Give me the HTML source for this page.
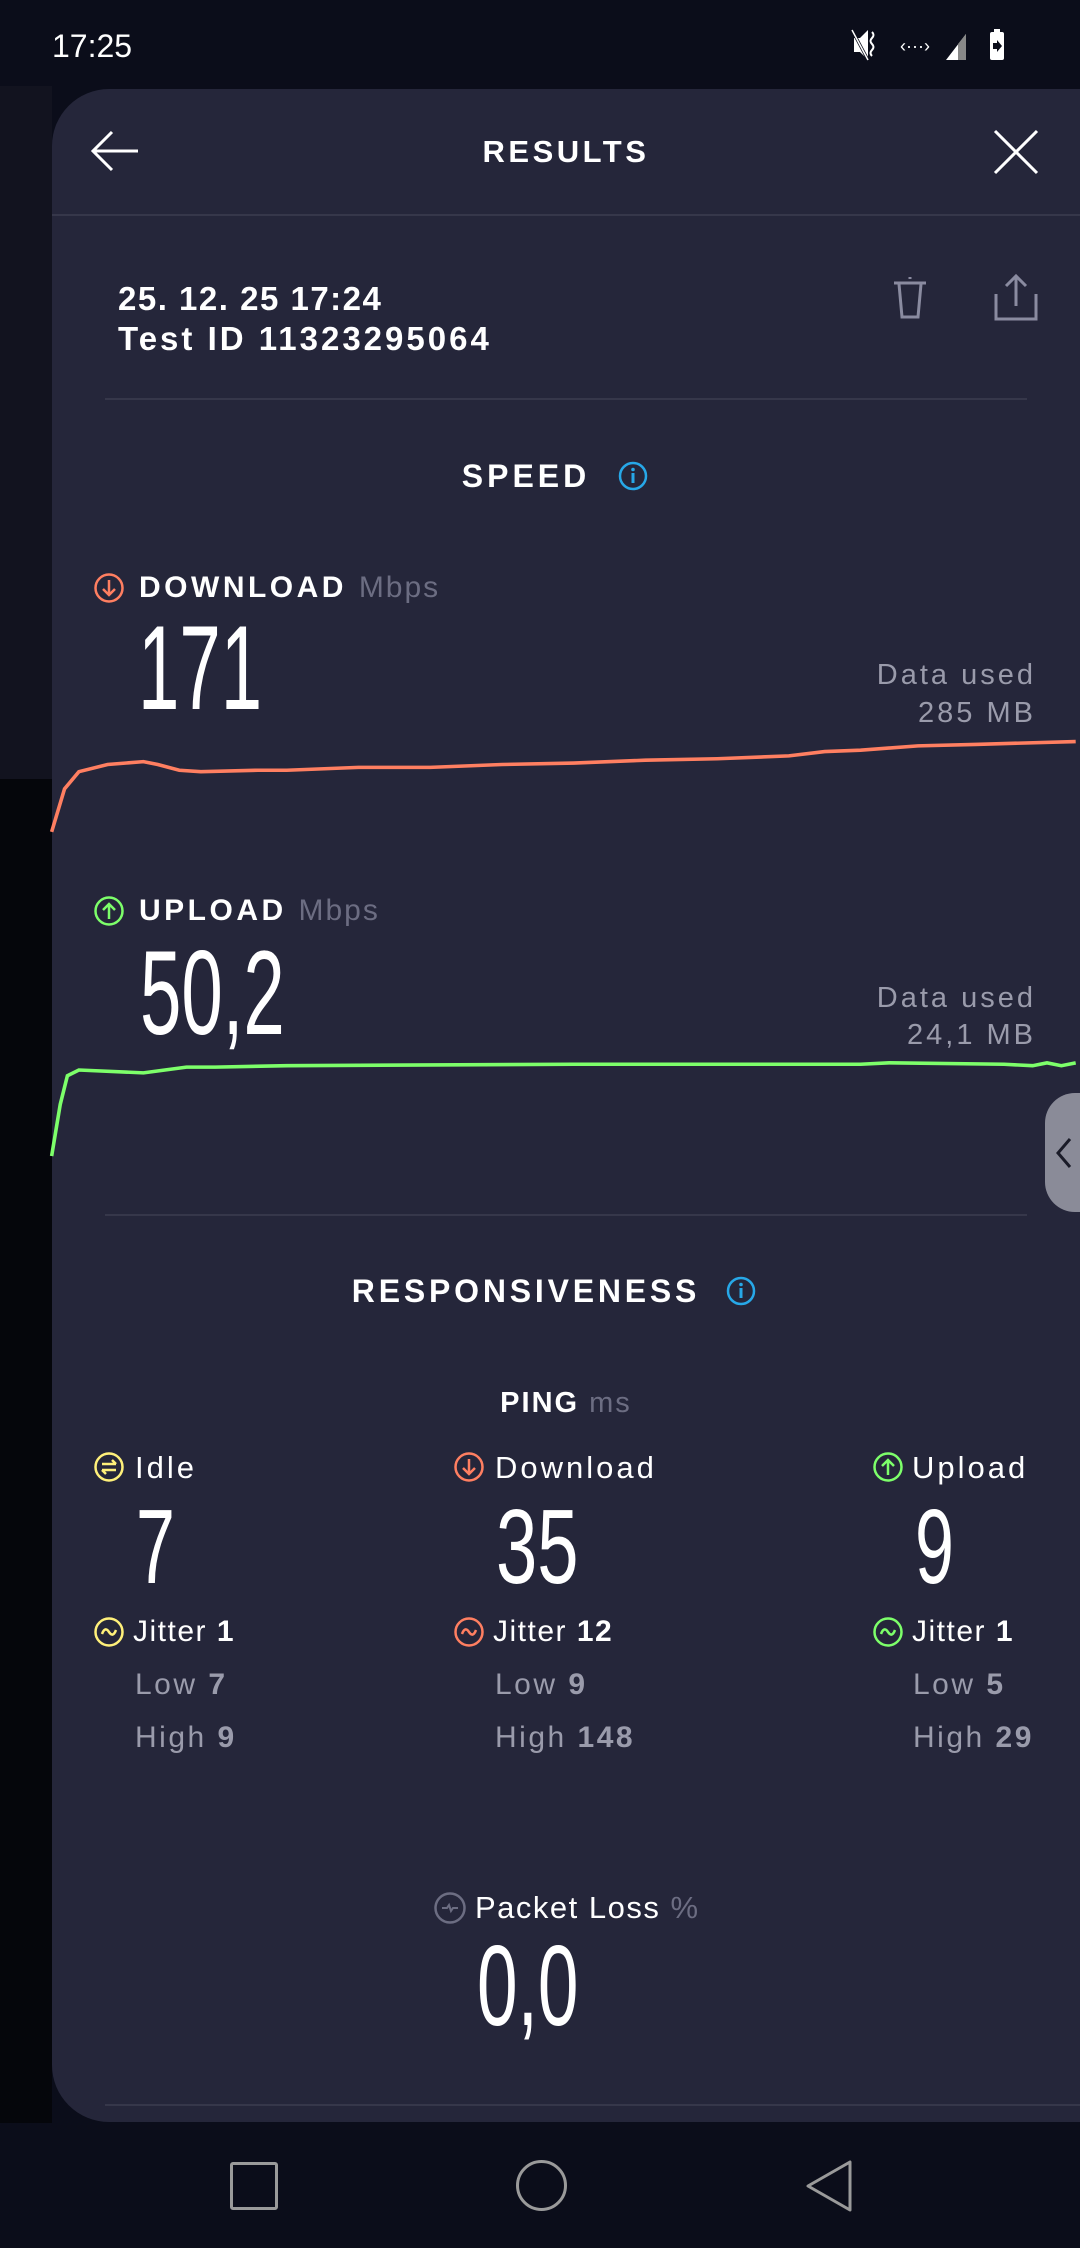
<!DOCTYPE html>
<html><head><meta charset="utf-8"><style>
*{margin:0;padding:0;box-sizing:border-box}
body{width:1080px;height:2248px;background:#0b0d1a;position:relative;overflow:hidden;font-family:"Liberation Sans",sans-serif;color:#fff}
.a{position:absolute;line-height:1;white-space:nowrap}
.b{font-weight:bold}
.g{color:#6c6d82}
.gr{color:#9a9bab}
.big{font-weight:normal;transform-origin:left top;transform:scaleX(0.62)}
.lr{letter-spacing:3px}
.ll{letter-spacing:2.5px}
</style></head><body>
<div class="a" style="left:0;top:86px;width:52px;height:693px;background:#12131f"></div>
<div class="a" style="left:0;top:779px;width:52px;height:1344px;background:#05060b"></div>
<div class="a" style="left:52px;top:89px;width:1100px;height:2033px;background:#25263a;border-radius:57px 0 0 57px"></div>

<div class="a" style="left:52px;top:30px;font-size:32px">17:25</div>
<svg class="a" style="left:850px;top:28px" width="200" height="36" viewBox="0 0 200 36">
<path d="M4 10h6l8-8v30l-8-8H4z" fill="#fff"/><line x1="2" y1="2" x2="18" y2="32" stroke="#0b0d1a" stroke-width="3"/><line x1="2" y1="2" x2="18" y2="32" stroke="#fff" stroke-width="1.5"/>
<path d="M22 4q3 3 0 6t0 6t0 6t0 6" stroke="#fff" fill="none" stroke-width="2"/>
<text x="50" y="24" font-size="18" fill="#fff" font-family="Liberation Sans">‹···›</text>
<path d="M96 32L116 6v26z" fill="#fff"/><path d="M108 16l8-10v26h-8z" fill="#888"/>
<rect x="140" y="4" width="14" height="28" rx="2" fill="#fff"/><rect x="144" y="1" width="6" height="4" fill="#fff"/><path d="M143 15h4v-3l5 6-5 6v-3h-4z" fill="#0b0d1a"/>
</svg>

<svg class="a" style="left:90px;top:126px" width="50" height="50"><path d="M48 25H4M22 6L3 25l19 19" stroke="#fff" stroke-width="3" fill="none"/></svg>
<div class="a b" style="left:0;width:1132px;text-align:center;top:136px;font-size:31px;letter-spacing:3.5px">RESULTS</div>
<svg class="a" style="left:993px;top:129px" width="46" height="46"><path d="M2 2L44 44M44 2L2 44" stroke="#fff" stroke-width="3"/></svg>
<div class="a" style="left:52px;top:214px;width:1100px;height:2px;background:#36374a"></div>

<div class="a b" style="left:118px;top:282px;font-size:33px;letter-spacing:1.5px">25. 12. 25 17:24</div>
<div class="a b" style="left:118px;top:322px;font-size:33px;letter-spacing:3px">Test ID 11323295064</div>
<svg class="a" style="left:890px;top:274px" width="40" height="48"><path d="M4 9h32M20 3v2M9 10l3 33h16l3-33" stroke="#8a8ba0" stroke-width="3" fill="none"/></svg>
<svg class="a" style="left:993px;top:272px" width="46" height="50"><path d="M23 4v30M13 14l10-10 10 10M3 22v25h40V22" stroke="#8a8ba0" stroke-width="3" fill="none"/></svg>
<div class="a" style="left:105px;top:398px;width:922px;height:2px;background:#36374a"></div>

<div class="a b" style="left:0;width:1052px;text-align:center;top:460px;font-size:32px;letter-spacing:4px">SPEED</div>
<svg class="a" style="left:617px;top:460px" width="32" height="32"><circle cx="16" cy="16" r="13" stroke="#27a8e8" stroke-width="2.5" fill="none"/><rect x="14.5" y="13" width="3" height="10" fill="#27a8e8"/><circle cx="16" cy="9.5" r="1.8" fill="#27a8e8"/></svg>

<svg class="a" style="left:93px;top:572px" width="32" height="32"><circle cx="16" cy="16" r="13.5" stroke="#ff7f61" stroke-width="2.5" fill="none"/><path d="M16 8v15M10 17l6 6 6-6" stroke="#ff7f61" stroke-width="2.5" fill="none"/></svg>
<div class="a b" style="left:139px;top:573px;font-size:30px;letter-spacing:3.5px">DOWNLOAD <span class="g" style="font-weight:normal;letter-spacing:2px">Mbps</span></div>
<div class="a big" style="left:138px;top:608px;font-size:120px">171</div>
<div class="a gr lr" style="right:44px;top:661px;font-size:29px;text-align:right">Data used</div>
<div class="a gr lr" style="right:44px;top:699px;font-size:29px;text-align:right">285 MB</div>

<svg class="a" style="left:93px;top:895px" width="32" height="32"><circle cx="16" cy="16" r="13.5" stroke="#7dff6a" stroke-width="2.5" fill="none"/><path d="M16 24V9M10 15l6-6 6 6" stroke="#7dff6a" stroke-width="2.5" fill="none"/></svg>
<div class="a b" style="left:139px;top:896px;font-size:30px;letter-spacing:3.5px">UPLOAD <span class="g" style="font-weight:normal;letter-spacing:2px">Mbps</span></div>
<div class="a big" style="left:140px;top:933px;font-size:120px">50,2</div>
<div class="a gr lr" style="right:44px;top:984px;font-size:29px">Data used</div>
<div class="a gr lr" style="right:44px;top:1021px;font-size:29px">24,1 MB</div>

<svg class="a" style="left:0;top:0" width="1080" height="1240" viewBox="0 0 753 864.5">
<polyline fill="none" stroke="#ff7f61" stroke-width="2.5" points="36,580 45,550 55,538 75,533 100,531 110,533 125,537 140,538 180,537 200,537 250,535 300,535 350,533 400,532 450,530 500,529 550,527 575,524 600,523 640,520 680,519 750,517"/>
<polyline fill="none" stroke="#7dff6a" stroke-width="2.5" points="36,806 42,770 47,750 55,746 100,748 115,746 130,744 150,744 200,743 400,742 600,742 620,741 700,742 720,743 730,741 740,743 750,741"/>
</svg>

<div class="a" style="left:1045px;top:1093px;width:60px;height:119px;background:#8a8b98;border-radius:30px 0 0 30px"></div>
<svg class="a" style="left:1052px;top:1136px" width="24" height="34"><path d="M18 3L6 17l12 14" stroke="#1a1b28" stroke-width="3" fill="none"/></svg>

<div class="a" style="left:105px;top:1214px;width:922px;height:2px;background:#36374a"></div>
<div class="a b" style="left:0;width:1052px;text-align:center;top:1275px;font-size:32px;letter-spacing:3.8px">RESPONSIVENESS</div>
<svg class="a" style="left:725px;top:1275px" width="32" height="32"><circle cx="16" cy="16" r="13" stroke="#27a8e8" stroke-width="2.5" fill="none"/><rect x="14.5" y="13" width="3" height="10" fill="#27a8e8"/><circle cx="16" cy="9.5" r="1.8" fill="#27a8e8"/></svg>

<div class="a" style="left:0;width:1132px;text-align:center;top:1389px;font-size:29px;letter-spacing:2px"><b>PING</b> <span class="g">ms</span></div>

<svg class="a" style="left:93px;top:1451px" width="32" height="32"><circle cx="16" cy="16" r="13.5" stroke="#fff07a" stroke-width="2.5" fill="none"/><path d="M9 13h14M19 9l4 4M23 19H9M13 23l-4-4" stroke="#fff07a" stroke-width="2.5" fill="none"/></svg>
<div class="a lr" style="left:135px;top:1452px;font-size:31px">Idle</div>
<svg class="a" style="left:453px;top:1451px" width="32" height="32"><circle cx="16" cy="16" r="13.5" stroke="#ff7f61" stroke-width="2.5" fill="none"/><path d="M16 8v15M10 17l6 6 6-6" stroke="#ff7f61" stroke-width="2.5" fill="none"/></svg>
<div class="a lr" style="left:495px;top:1452px;font-size:31px">Download</div>
<svg class="a" style="left:872px;top:1451px" width="32" height="32"><circle cx="16" cy="16" r="13.5" stroke="#7dff6a" stroke-width="2.5" fill="none"/><path d="M16 24V9M10 15l6-6 6 6" stroke="#7dff6a" stroke-width="2.5" fill="none"/></svg>
<div class="a lr" style="left:912px;top:1452px;font-size:31px">Upload</div>

<div class="a big" style="left:136px;top:1494px;font-size:106px;transform:scaleX(0.66)">7</div>
<div class="a big" style="left:496px;top:1494px;font-size:106px;transform:scaleX(0.7)">35</div>
<div class="a big" style="left:915px;top:1494px;font-size:106px;transform:scaleX(0.66)">9</div>

<svg class="a" style="left:93px;top:1616px" width="32" height="32"><circle cx="16" cy="16" r="13.5" stroke="#fff07a" stroke-width="2.5" fill="none"/><path d="M9 18q3-8 7-2t7-2" stroke="#fff07a" stroke-width="2.5" fill="none"/></svg>
<div class="a" style="left:133px;top:1617px;font-size:30px;letter-spacing:1.5px">Jitter <b>1</b></div>
<svg class="a" style="left:453px;top:1616px" width="32" height="32"><circle cx="16" cy="16" r="13.5" stroke="#ff7f61" stroke-width="2.5" fill="none"/><path d="M9 18q3-8 7-2t7-2" stroke="#ff7f61" stroke-width="2.5" fill="none"/></svg>
<div class="a" style="left:493px;top:1617px;font-size:30px;letter-spacing:1.5px">Jitter <b>12</b></div>
<svg class="a" style="left:872px;top:1616px" width="32" height="32"><circle cx="16" cy="16" r="13.5" stroke="#7dff6a" stroke-width="2.5" fill="none"/><path d="M9 18q3-8 7-2t7-2" stroke="#7dff6a" stroke-width="2.5" fill="none"/></svg>
<div class="a" style="left:912px;top:1617px;font-size:30px;letter-spacing:1.5px">Jitter <b>1</b></div>

<div class="a gr ll" style="left:135px;top:1670px;font-size:30px">Low <b>7</b></div>
<div class="a gr ll" style="left:495px;top:1670px;font-size:30px">Low <b>9</b></div>
<div class="a gr ll" style="left:913px;top:1670px;font-size:30px">Low <b>5</b></div>
<div class="a gr ll" style="left:135px;top:1723px;font-size:30px">High <b>9</b></div>
<div class="a gr ll" style="left:495px;top:1723px;font-size:30px">High <b>148</b></div>
<div class="a gr ll" style="left:913px;top:1723px;font-size:30px">High <b>29</b></div>

<svg class="a" style="left:433px;top:1891px" width="34" height="34"><circle cx="17" cy="17" r="14.5" stroke="#6c6d82" stroke-width="2.5" fill="none"/><path d="M9 17h5l2-3 2 6 2-3h5" stroke="#6c6d82" stroke-width="2" fill="none"/></svg>
<div class="a" style="left:475px;top:1892px;font-size:31px;letter-spacing:1.5px">Packet Loss <span class="g">%</span></div>
<div class="a big" style="left:477px;top:1930px;font-size:114px;transform:scaleX(0.64)">0,0</div>

<div class="a" style="left:105px;top:2104px;width:1000px;height:2px;background:#36374a"></div>

<div class="a" style="left:230px;top:2162px;width:48px;height:48px;border:3px solid #9a9a9a;border-radius:3px"></div>
<div class="a" style="left:516px;top:2160px;width:51px;height:51px;border:3px solid #9a9a9a;border-radius:50%"></div>
<svg class="a" style="left:802px;top:2158px" width="52" height="56"><path d="M48 4v48L6 28z" stroke="#9a9a9a" stroke-width="3" fill="none" stroke-linejoin="round"/></svg>
</body></html>
